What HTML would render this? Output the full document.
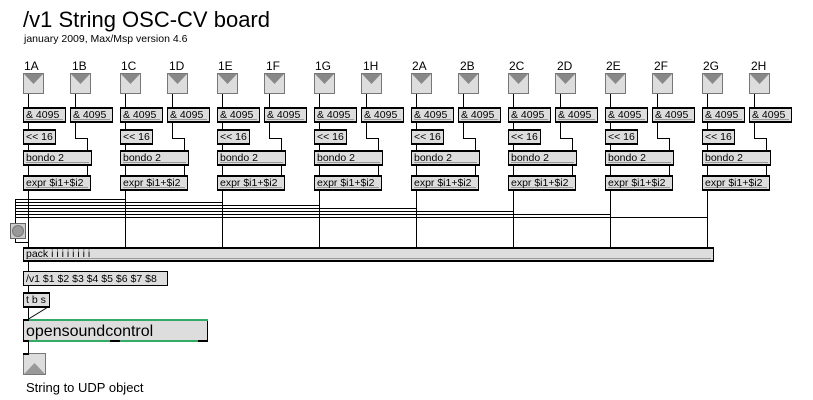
<!DOCTYPE html>
<html><head><meta charset="utf-8"><style>
html,body{margin:0;padding:0;background:#fff;}
svg{display:block;}
text{font-family:"Liberation Sans","DejaVu Sans",sans-serif;fill:#000;}
</style></head><body>
<svg width="813" height="400" viewBox="0 0 813 400" xmlns="http://www.w3.org/2000/svg">
<text x="23" y="27" font-size="22">/v1 String OSC-CV board</text>
<text x="24" y="42" font-size="10.5">january 2009, Max/Msp version 4.6</text>

<g stroke-width="1">
<g transform="translate(0,0)"><text x="24" y="70" font-size="12">1A</text><text x="72" y="70" font-size="12">1B</text></g>
<g transform="translate(97,0)"><text x="24" y="70" font-size="12">1C</text><text x="72" y="70" font-size="12">1D</text></g>
<g transform="translate(194,0)"><text x="24" y="70" font-size="12">1E</text><text x="72" y="70" font-size="12">1F</text></g>
<g transform="translate(291,0)"><text x="24" y="70" font-size="12">1G</text><text x="72" y="70" font-size="12">1H</text></g>
<g transform="translate(388,0)"><text x="24" y="70" font-size="12">2A</text><text x="72" y="70" font-size="12">2B</text></g>
<g transform="translate(485,0)"><text x="24" y="70" font-size="12">2C</text><text x="72" y="70" font-size="12">2D</text></g>
<g transform="translate(582,0)"><text x="24" y="70" font-size="12">2E</text><text x="72" y="70" font-size="12">2F</text></g>
<g transform="translate(679,0)"><text x="24" y="70" font-size="12">2G</text><text x="72" y="70" font-size="12">2H</text></g>
</g>

<g id="g0">
<g stroke="#000" fill="none">
<line x1="28.5" y1="93" x2="28.5" y2="107"/><line x1="75.5" y1="93" x2="75.5" y2="107"/>
<line x1="28.5" y1="123" x2="28.5" y2="129"/><line x1="28.5" y1="144" x2="28.5" y2="150"/>
<polyline points="75.5,123 75.5,138.5 87.5,138.5 87.5,150"/>
<line x1="28.5" y1="166" x2="28.5" y2="175"/><line x1="87.5" y1="166" x2="87.5" y2="175"/>
<line x1="28.5" y1="191" x2="28.5" y2="247"/>
</g>
<rect x="23.5" y="73.5" width="20" height="20" fill="#ddd" stroke="#777"/>
<polygon points="24,74 43,74 33.5,84" fill="#888"/>
<rect x="70.5" y="73.5" width="20" height="20" fill="#ddd" stroke="#777"/>
<polygon points="71,74 90,74 80.5,84" fill="#888"/>
<rect x="23.5" y="107.5" width="42" height="15" fill="#ddd" stroke="#000"/>
<rect x="23" y="107" width="43" height="2" fill="#000"/><rect x="23" y="121" width="43" height="2" fill="#000"/>
<line x1="26" y1="119.5" x2="63" y2="119.5" stroke="#999"/>
<text x="26" y="118" font-size="10.5">&amp; 4095</text>
<rect x="70.5" y="107.5" width="42" height="15" fill="#ddd" stroke="#000"/>
<rect x="70" y="107" width="43" height="2" fill="#000"/><rect x="70" y="121" width="43" height="2" fill="#000"/>
<line x1="73" y1="119.5" x2="110" y2="119.5" stroke="#999"/>
<text x="73" y="118" font-size="10.5">&amp; 4095</text>
<rect x="23.5" y="129.5" width="32" height="14" fill="#ddd" stroke="#000"/>
<rect x="23" y="129" width="33" height="2" fill="#000"/><rect x="23" y="143" width="33" height="2" fill="#000"/>
<text x="26" y="140" font-size="10.5">&lt;&lt; 16</text>
<rect x="23.5" y="150.5" width="68" height="15" fill="#ddd" stroke="#000"/>
<rect x="23" y="150" width="69" height="2" fill="#000"/><rect x="23" y="164" width="69" height="2" fill="#000"/>
<line x1="26" y1="162.5" x2="89" y2="162.5" stroke="#999"/>
<text x="26" y="161" font-size="10.5">bondo 2</text>
<rect x="23.5" y="175.5" width="67" height="15" fill="#ddd" stroke="#000"/>
<rect x="23" y="175" width="68" height="2" fill="#000"/><rect x="23" y="189" width="68" height="2" fill="#000"/>
<line x1="26" y1="187.5" x2="88" y2="187.5" stroke="#999"/>
<text x="26" y="186" font-size="10.5">expr $i1+$i2</text>
</g>
<use href="#g0" x="97"/><use href="#g0" x="194"/><use href="#g0" x="291"/><use href="#g0" x="388"/><use href="#g0" x="485"/><use href="#g0" x="582"/><use href="#g0" x="679"/>

<g stroke="#000" fill="none">
<polyline points="125.5,199.5 15.5,199.5 15.5,242.5 28.5,242.5"/>
<line x1="15.5" y1="202.5" x2="222.5" y2="202.5"/>
<line x1="15.5" y1="205.5" x2="319.5" y2="205.5"/>
<line x1="15.5" y1="208.5" x2="416.5" y2="208.5"/>
<line x1="15.5" y1="211.5" x2="513.5" y2="211.5"/>
<line x1="15.5" y1="214.5" x2="610.5" y2="214.5"/>
<line x1="15.5" y1="217.5" x2="707.5" y2="217.5"/>
<line x1="28.5" y1="262" x2="28.5" y2="271"/>
<line x1="28.5" y1="286" x2="28.5" y2="292"/>
<line x1="28.5" y1="308" x2="28.5" y2="319"/>
<line x1="46.5" y1="308" x2="28.5" y2="319"/>
<line x1="28.5" y1="342" x2="28.5" y2="353"/>
</g>
<rect x="10.5" y="223.5" width="15" height="15" fill="#ccc" stroke="#666"/>
<circle cx="18" cy="231" r="5.5" fill="#999" stroke="#777"/>

<rect x="23.5" y="247.5" width="690" height="14" fill="#ddd" stroke="#000"/>
<rect x="23" y="247" width="691" height="2" fill="#000"/><rect x="23" y="260" width="691" height="2" fill="#000"/>
<line x1="26" y1="258.5" x2="711" y2="258.5" stroke="#999"/>
<text x="26" y="257" font-size="10.5">pack i i i i i i i i</text>

<rect x="23.5" y="271.5" width="144" height="14" fill="#ddd" stroke="#000"/>
<text x="26" y="282" font-size="10.5">/v1 $1 $2 $3 $4 $5 $6 $7 $8</text>

<rect x="23.5" y="292.5" width="26" height="15" fill="#ddd" stroke="#000"/>
<rect x="23" y="292" width="27" height="2" fill="#000"/><rect x="23" y="306" width="27" height="2" fill="#000"/>
<text x="26" y="303" font-size="10.5">t b s</text>

<rect x="23.5" y="319.5" width="184" height="22" fill="#ddd" stroke="#000"/>
<rect x="23" y="319" width="185" height="2" fill="#3a6"/><rect x="23" y="340" width="185" height="2" fill="#3a6"/>
<rect x="23" y="319" width="6" height="2" fill="#000"/><rect x="23" y="340" width="6" height="2" fill="#000"/><rect x="110" y="340" width="10" height="2" fill="#000"/><rect x="198" y="340" width="10" height="2" fill="#000"/>
<text x="26" y="336" font-size="16">opensoundcontrol</text>

<rect x="23.5" y="353.5" width="22" height="21" fill="#ddd" stroke="#777"/>
<rect x="23" y="353" width="6" height="2" fill="#000"/>
<polygon points="24,374 45,374 34.5,363" fill="#999"/>
<text x="26" y="392" font-size="13">String to UDP object</text>
</svg>
</body></html>
